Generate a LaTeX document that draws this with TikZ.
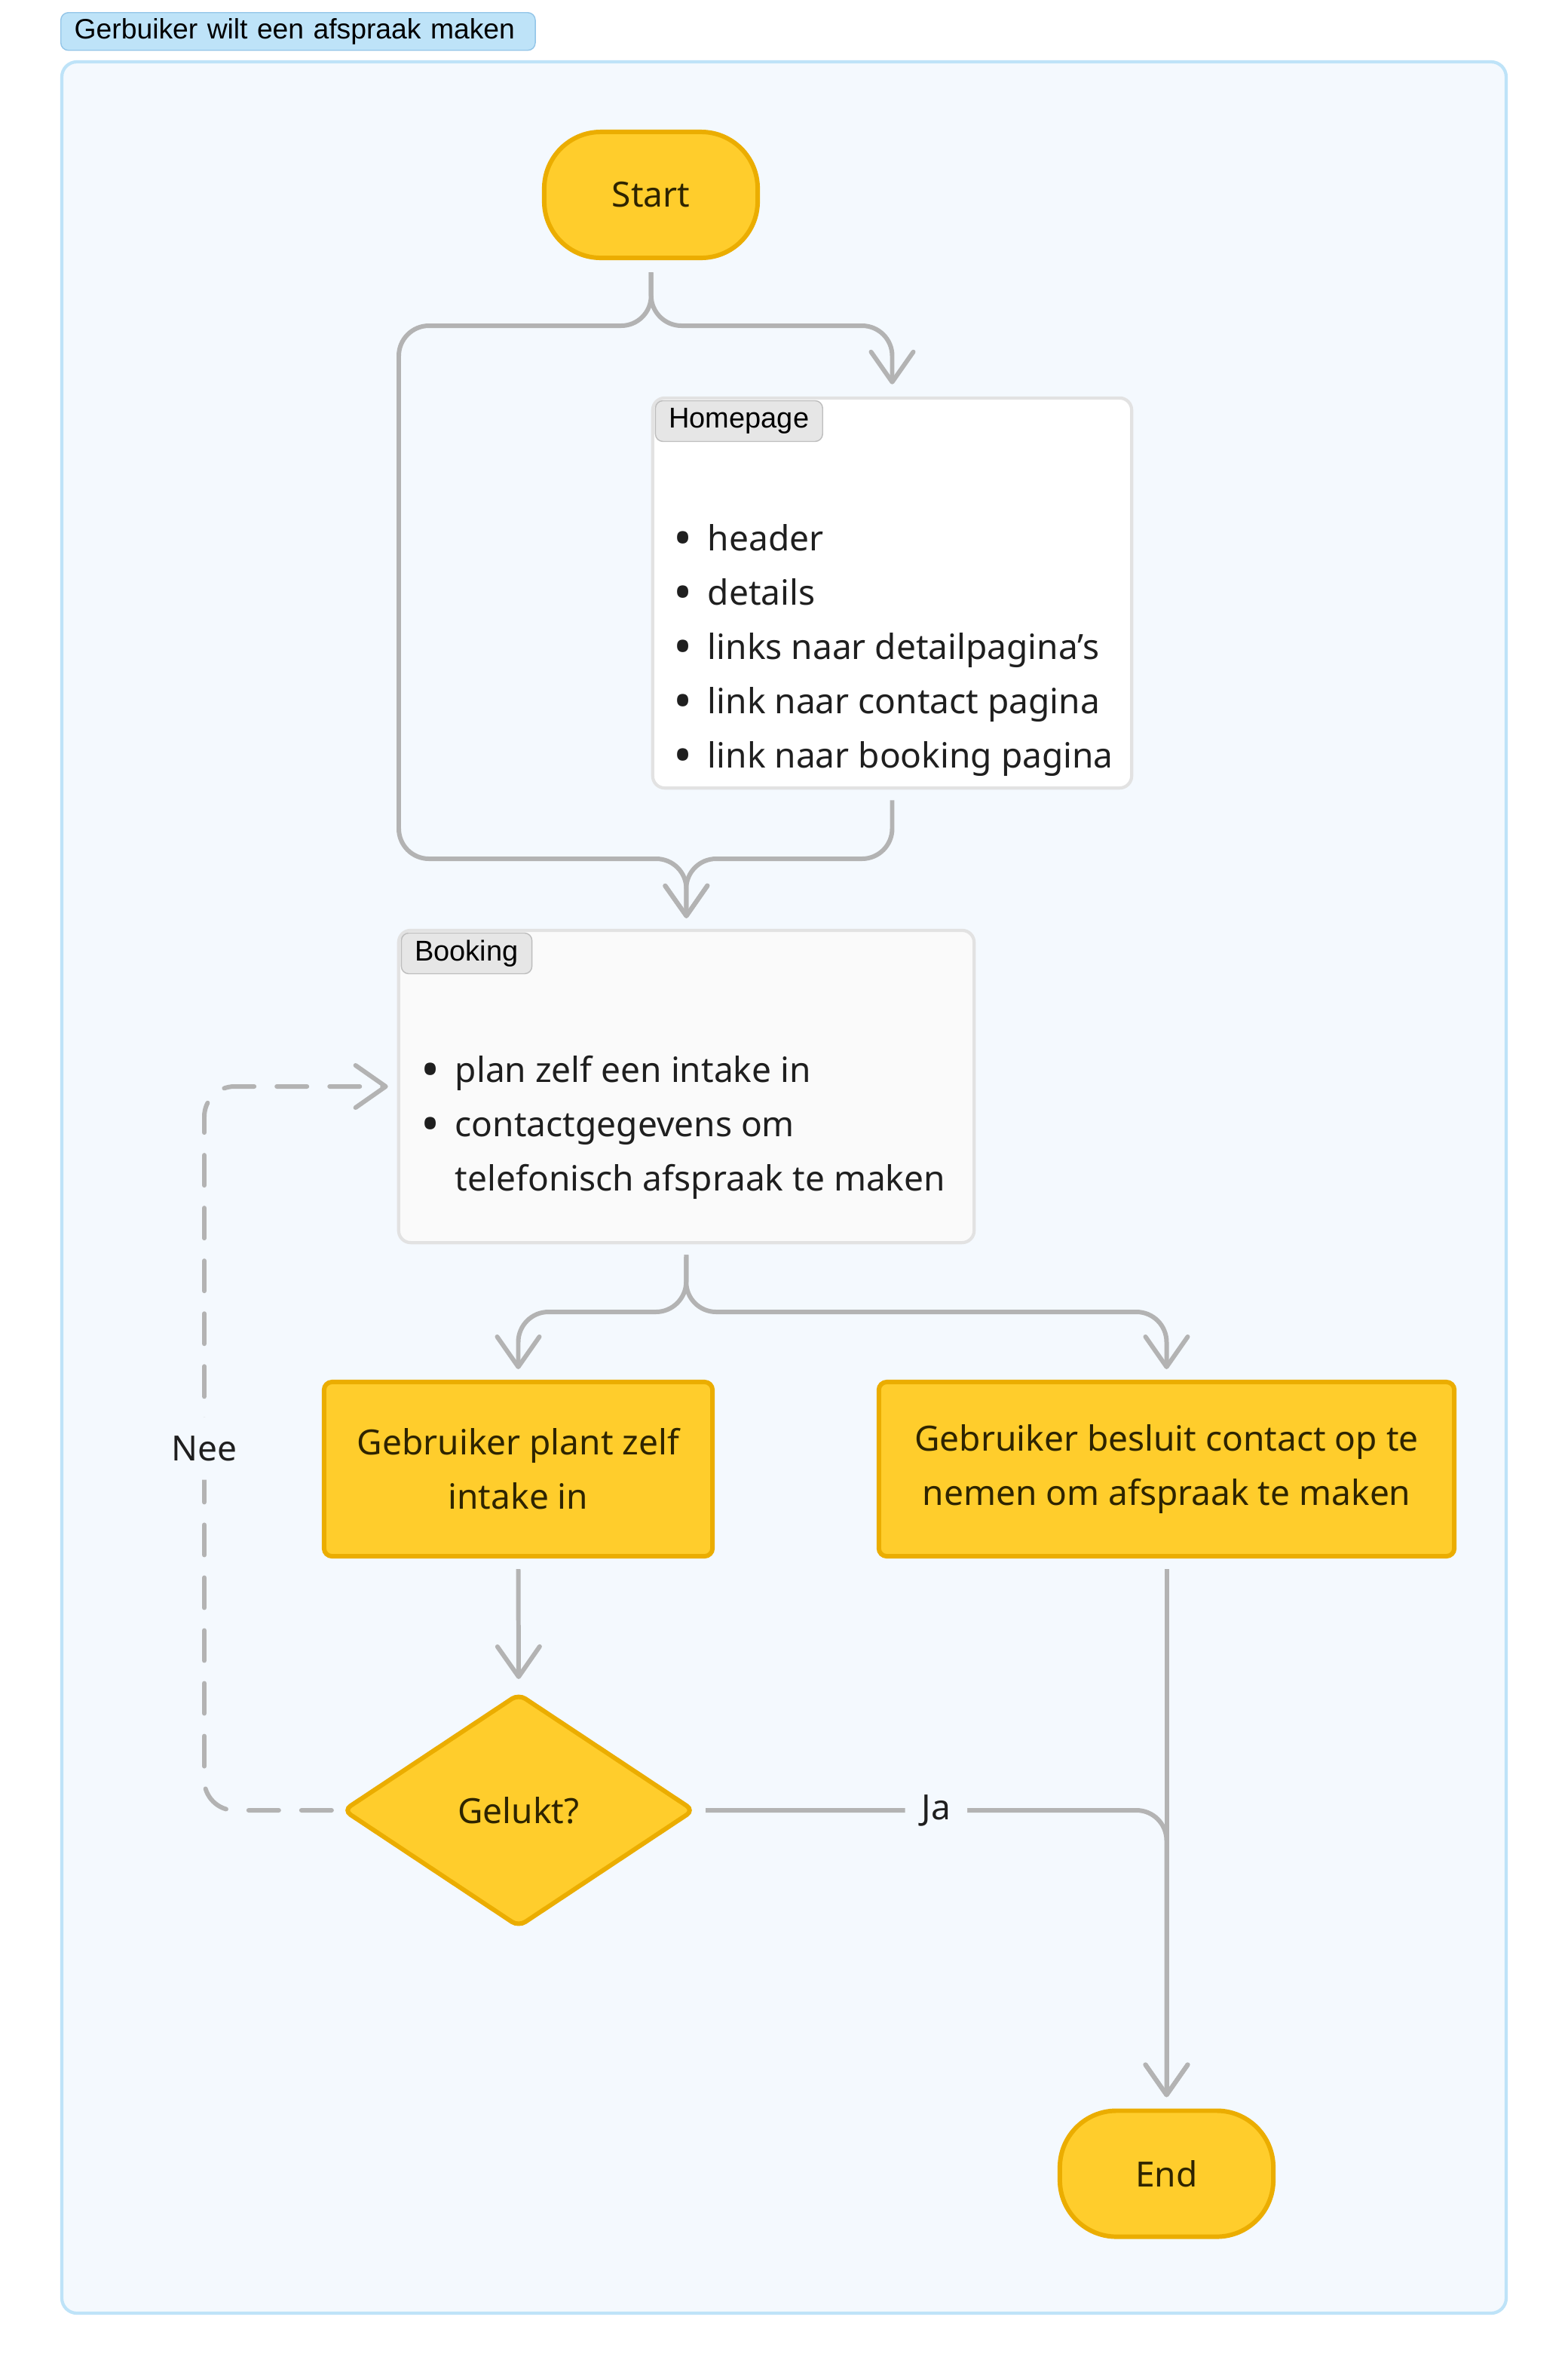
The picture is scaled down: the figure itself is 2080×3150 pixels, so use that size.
\documentclass[tikz,border=0pt]{standalone}
\usepackage{fontspec}
\setmainfont{Noto Sans}
\newfontfamily\tagfont{Liberation Sans}
\usetikzlibrary{arrows.meta, positioning, shapes.geometric}

\definecolor{flowyellow}{HTML}{FFCD2C}
\definecolor{flowgold}{HTML}{EBAD00}
\definecolor{flowtext}{HTML}{2E2400}
\definecolor{bodytext}{HTML}{1F1F1F}
\definecolor{linegray}{HTML}{B3B3B3}
\definecolor{laneblue}{HTML}{BEE3F8}
\definecolor{lanefill}{HTML}{F4F9FE}
\definecolor{tagborder}{HTML}{93C5E8}
\definecolor{boxborder}{HTML}{E2E2E2}
\definecolor{taggray}{HTML}{E6E6E6}
\definecolor{tagline}{HTML}{BDBDBD}

\newcommand{\dotitem}{\raisebox{-0.07cm}{\fontsize{19}{19}\selectfont •}}

\begin{document}
\begin{tikzpicture}[x=0.01cm, y=-0.01cm, font=\fontsize{13.1}{20.5}\selectfont,
    >={Straight Barb[length=0.4cm, width=0.56cm, round]},
    every node/.style={align=center, inner sep=0pt},
    terminal/.style={draw=flowgold, fill=flowyellow, line width=1.7pt, rounded corners=0.75cm, text=flowtext, minimum width=2.83cm, minimum height=1.67cm},
    process/.style={draw=flowgold, fill=flowyellow, line width=1.7pt, rounded corners=3pt, text=flowtext, minimum height=2.31cm},
    decision/.style={diamond, draw=flowgold, fill=flowyellow, line width=1.7pt, rounded corners=3pt, text=flowtext, minimum width=4.66cm, minimum height=3.1cm},
    pagebox/.style={draw=boxborder, line width=1.2pt, rounded corners=0.16cm},
    pagetag/.style={draw=tagline, fill=taggray, rounded corners=0.1cm, font=\tagfont\fontsize{10.8}{12}\selectfont, minimum height=0.54cm, inner xsep=0.18cm, anchor=north west},
    bullets/.style={anchor=west, align=left, text=bodytext},
    flow/.style={draw=linegray, line width=1.7pt, rounded corners=0.4cm, ->},
    retry/.style={flow, dash pattern=on 0.4cm off 0.3cm, line cap=round},
    edgelabel/.style={fill=lanefill, text=bodytext, inner xsep=0.22cm, inner ysep=0.25cm}]
    \useasboundingbox (0,0) rectangle (2080,3150);

    % lane
    \draw[draw=laneblue, fill=lanefill, line width=1.2pt, rounded corners=0.2cm] (82,82) rectangle (1998,3068);
    \node[draw=tagborder, fill=laneblue, rounded corners=0.1cm, minimum height=0.5cm, text width=5.93cm, align=left, inner xsep=0.18cm, anchor=north west, font=\tagfont\fontsize{10.6}{12}\selectfont] (lanetag) at (80,16) {Gerbuiker wilt een afspraak maken};

    \node[terminal] (start) at (863.5,258.5) {Start};

    \node[pagebox, fill=white, minimum width=6.35cm, minimum height=5.17cm] (home) at (1183.5,786.5) {};
    \node[pagetag] (hometag) at ([shift={(0.05cm,-0.05cm)}]home.north west) {Homepage};
    \node[bullets] (homelist) at (893,860) {\begin{tabular}{@{}l@{\hspace{0.2cm}}l@{}}
        \dotitem & header\\
        \dotitem & details\\
        \dotitem & links naar detailpagina’s\\
        \dotitem & link naar contact pagina\\
        \dotitem & link naar booking pagina
    \end{tabular}};

    \node[pagebox, fill=white!98!black, minimum width=7.63cm, minimum height=4.14cm] (booking) at (910.5,1441) {};
    \node[pagetag] (booktag) at ([shift={(0.05cm,-0.05cm)}]booking.north west) {Booking};
    \node[bullets] (booklist) at (558,1493) {\begin{tabular}{@{}l@{\hspace{0.2cm}}l@{}}
        \dotitem & plan zelf een intake in\\
        \dotitem & contactgegevens om\\
          & telefonisch afspraak te maken
    \end{tabular}};

    \node[process, minimum width=5.15cm] (plan) at (687.5,1948.5) {Gebruiker plant zelf\\intake in};
    \node[process, minimum width=7.63cm] (contact) at (1547.5,1948.5) {Gebruiker besluit contact op te\\nemen om afspraak te maken};
    \node[decision] (gelukt) at (688,2401) {Gelukt?};
    \node[terminal] (stop) at (1547.5,2883) {End};

    \coordinate (split1) at (864,432);
    \coordinate (leftlane) at (529,1139);
    \coordinate (merge) at (910,1139);
    \coordinate (split2) at (910,1740);
    \coordinate (noloop) at (271,1441);

    \draw[flow] ([yshift=-0.16cm]start.south) -- (split1) -| ([yshift=0.16cm]home.north);
    \draw[flow] ([yshift=-0.16cm]start.south) -- (split1) -| (leftlane) -| ([yshift=0.14cm]booking.north);
    \draw[flow] ([yshift=-0.14cm]home.south) |- (merge) -- ([yshift=0.14cm]booking.north);
    \draw[flow] ([yshift=-0.14cm]booking.south) -- (split2) -| ([yshift=0.14cm]plan.north);
    \draw[flow] ([yshift=-0.14cm]booking.south) -- (split2) -| ([yshift=0.14cm]contact.north);
    \draw[flow] ([yshift=-0.14cm]plan.south) -- ([yshift=0.16cm]gelukt.north);
    \draw[flow] ([yshift=-0.14cm]contact.south) -- ([yshift=0.15cm]stop.north);
    \draw[flow] ([xshift=0.12cm]gelukt.east) -| ([yshift=0.15cm]stop.north) node[edgelabel, pos=0.25] (ja) {Ja};
    \draw[retry] ([xshift=-0.12cm]gelukt.west) -| (noloop) node[edgelabel, pos=0.75] (nee) {Nee} -- ([xshift=-0.12cm]booking.west);
\end{tikzpicture}
\end{document}
